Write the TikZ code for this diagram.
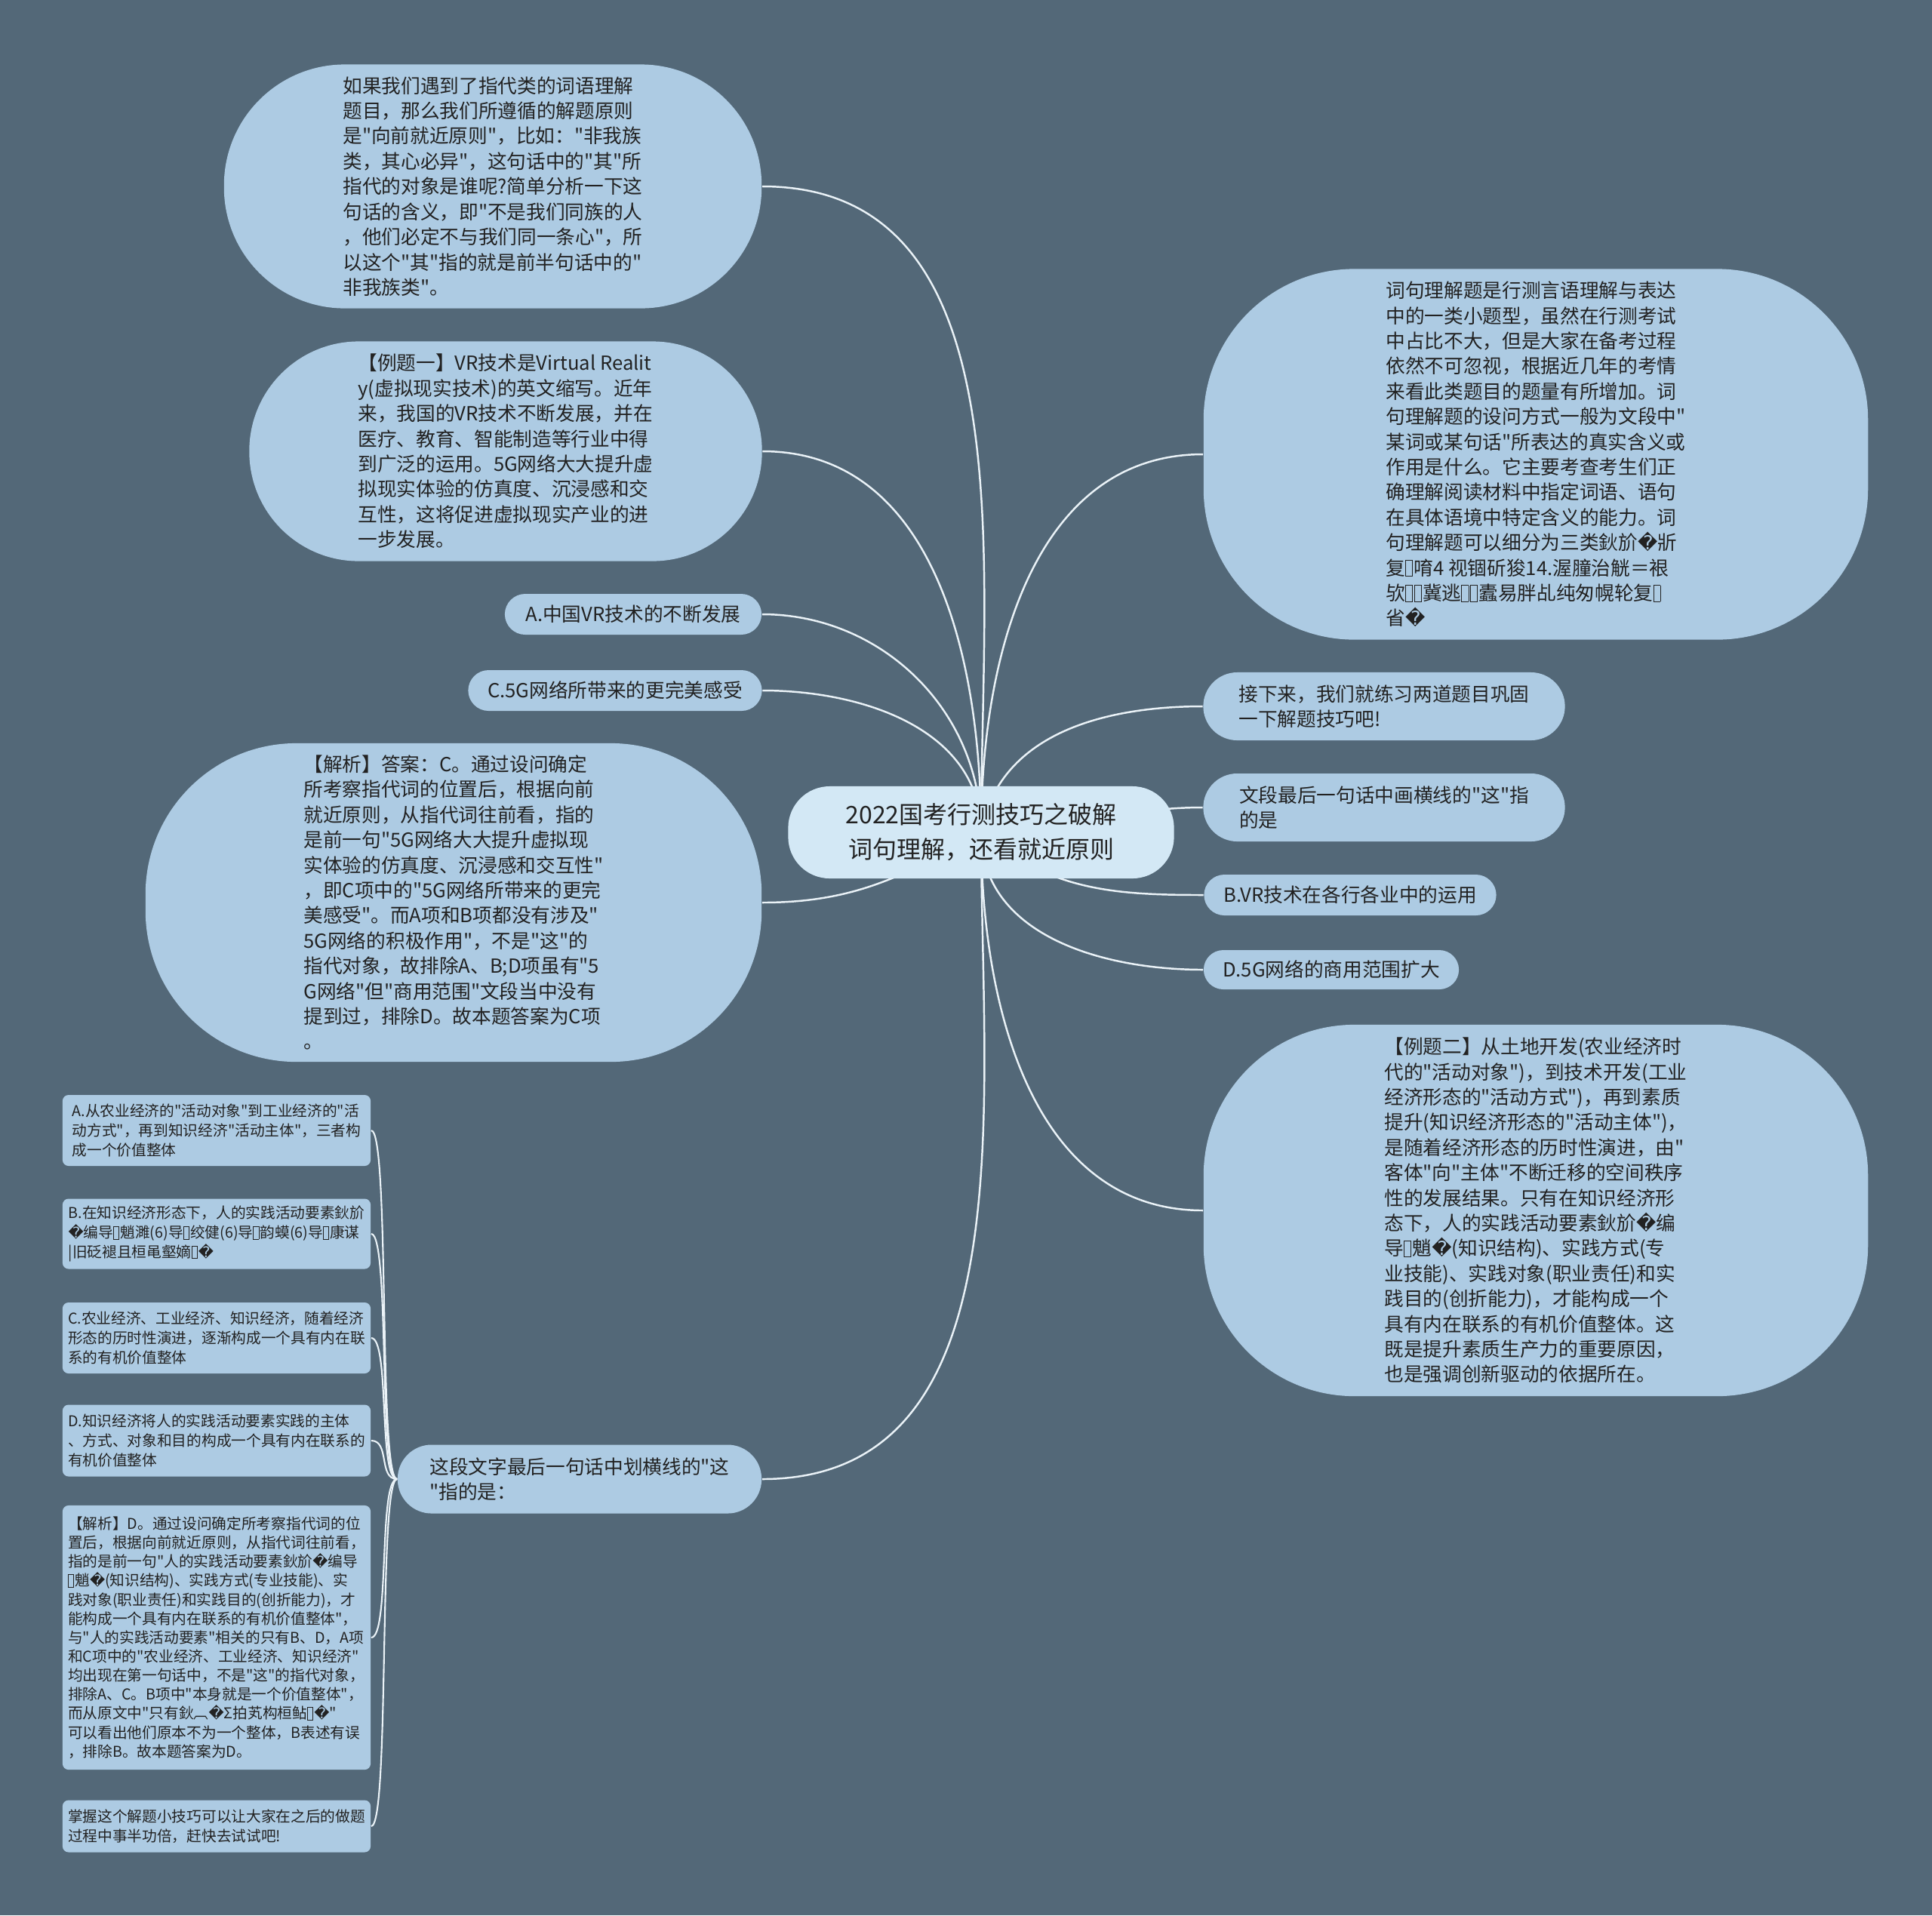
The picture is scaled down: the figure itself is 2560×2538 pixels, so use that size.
\documentclass[tikz,border=0pt]{standalone}
\usepackage{fontspec}
\newfontfamily\cjk{Noto Sans CJK SC}
\newfontfamily\dvs{DejaVu Sans}
\newcommand\rp{{\dvs\symbol{"FFFD}}}
\newcommand\tofu{{\setlength\fboxsep{0pt}\setlength\fboxrule{0.25pt}\raisebox{-0.05em}{\fbox{\rule{0pt}{0.8em}\hspace{0.32em}}}\hspace{0.06em}}}
\definecolor{bgslate}{HTML}{536878}
\definecolor{nodeblue}{HTML}{ADCBE3}
\definecolor{rootblue}{HTML}{D3E8F5}
\definecolor{linkwhite}{HTML}{EAF2F7}
\definecolor{inkdark}{HTML}{222222}
\usetikzlibrary{topaths}
\pgfdeclarelayer{bg}
\pgfdeclarelayer{edges}
\pgfsetlayers{bg,edges,main}

\begin{document}
\begin{tikzpicture}[x=0.01cm,y=-0.01cm,
  box/.style={fill=nodeblue,text=inkdark,inner sep=0pt,align=left,
    font=\cjk\fontsize{7.3}{9.5}\selectfont},
  pill/.style={box,rounded corners=#1},
  note/.style={box,rounded corners=0.08cm,minimum width=4.08cm,
    font=\cjk\fontsize{5.6}{7.3}\selectfont},
  link/.style={draw=linkwhite,line width=0.7pt},
  twig/.style={link,line width=0.6pt,out=180,in=0,out distance=0.25cm,in distance=0.25cm}]

\begin{pgfonlayer}{bg}
  \fill[bgslate] (0,0) rectangle (2560,2538);
\end{pgfonlayer}

% centre
\node[pill=0.55cm,fill=rootblue,align=center,minimum width=5.11cm,minimum height=1.22cm,
  font=\cjk\fontsize{9.1}{13}\selectfont] (root) at (1300,1103)
  {2022国考行测技巧之破解\\词句理解，还看就近原则};

% left branch
\node[pill=1.6cm,minimum width=7.12cm,minimum height=3.23cm] (zhidai) at (653,247)
  {如果我们遇到了指代类的词语理解\\题目，那么我们所遵循的解题原则\\是"向前就近原则"，比如："非我族\\类，其心必异"，这句话中的"其"所\\指代的对象是谁呢?简单分析一下这\\句话的含义，即"不是我们同族的人\\，他们必定不与我们同一条心"，所\\以这个"其"指的就是前半句话中的"\\非我族类"。};
\node[pill=1.45cm,minimum width=6.79cm,minimum height=2.91cm] (liti1) at (670,598)
  {【例题一】VR技术是Virtual Realit\\y(虚拟现实技术)的英文缩写。近年\\来，我国的VR技术不断发展，并在\\医疗、教育、智能制造等行业中得\\到广泛的运用。5G网络大大提升虚\\拟现实体验的仿真度、沉浸感和交\\互性，这将促进虚拟现实产业的进\\一步发展。};
\node[pill=0.27cm,minimum width=3.40cm,minimum height=0.54cm] (optA) at (839,814)
  {A.中国VR技术的不断发展};
\node[pill=0.27cm,minimum width=3.89cm,minimum height=0.54cm] (optC) at (815,915)
  {C.5G网络所带来的更完美感受};
\node[pill=2cm,minimum width=8.16cm,minimum height=4.22cm] (jiexi1) at (601,1196)
  {【解析】答案：C。通过设问确定\\所考察指代词的位置后，根据向前\\就近原则，从指代词往前看，指的\\是前一句"5G网络大大提升虚拟现\\实体验的仿真度、沉浸感和交互性"\\，即C项中的"5G网络所带来的更完\\美感受"。而A项和B项都没有涉及"\\5G网络的积极作用"，不是"这"的\\指代对象，故排除A、B;D项虽有"5\\G网络"但"商用范围"文段当中没有\\提到过，排除D。故本题答案为C项\\。};
\node[pill=0.45cm,minimum width=4.82cm,minimum height=0.91cm] (ask2) at (768,1960)
  {这段文字最后一句话中划横线的"这\\"指的是：};

% right branch
\node[pill=2cm,minimum width=8.8cm,minimum height=4.91cm] (ciju) at (2035,602)
  {词句理解题是行测言语理解与表达\\中的一类小题型，虽然在行测考试\\中占比不大，但是大家在备考过程\\依然不可忽视，根据近几年的考情\\来看此类题目的题量有所增加。词\\句理解题的设问方式一般为文段中"\\某词或某句话"所表达的真实含义或\\作用是什么。它主要考查考生们正\\确理解阅读材料中指定词语、语句\\在具体语境中特定含义的能力。词\\句理解题可以细分为三类鈥斺\rp 斨\\复\tofu 唷4 视锢斫狻14.渥膧治觥＝裉\\欤\tofu\tofu 冀逃\tofu\tofu 蠹易胖乩纯匆幌轮复\tofu\\省\rp};
\node[pill=0.45cm,minimum width=4.79cm,minimum height=0.9cm] (next) at (1834,936)
  {接下来，我们就练习两道题目巩固\\一下解题技巧吧!};
\node[pill=0.45cm,minimum width=4.79cm,minimum height=0.9cm] (ask1) at (1834,1070)
  {文段最后一句话中画横线的"这"指\\的是};
\node[pill=0.27cm,minimum width=3.87cm,minimum height=0.54cm] (optB) at (1789,1186)
  {B.VR技术在各行各业中的运用};
\node[pill=0.26cm,minimum width=3.38cm,minimum height=0.52cm] (optD) at (1764,1285)
  {D.5G网络的商用范围扩大};
\node[pill=2cm,minimum width=8.8cm,minimum height=4.92cm] (liti2) at (2035,1604)
  {【例题二】从土地开发(农业经济时\\代的"活动对象")，到技术开发(工业\\经济形态的"活动方式")，再到素质\\提升(知识经济形态的"活动主体")，\\是随着经济形态的历时性演进，由"\\客体"向"主体"不断迁移的空间秩序\\性的发展结果。只有在知识经济形\\态下，人的实践活动要素鈥斺\rp 编\\导\tofu 魈\rp(知识结构)、实践方式(专\\业技能)、实践对象(职业责任)和实\\践目的(创折能力)，才能构成一个\\具有内在联系的有机价值整体。这\\既是提升素质生产力的重要原因，\\也是强调创新驱动的依据所在。};

% options under ask2
\node[note,minimum height=0.94cm] (sa) at (287,1498)
  {A.从农业经济的"活动对象"到工业经济的"活\\动方式"，再到知识经济"活动主体"，三者构\\成一个价值整体};
\node[note,minimum height=0.93cm] (sb) at (287,1635)
  {B.在知识经济形态下，人的实践活动要素鈥斺\\\rp 编导\tofu 魈濉(6)导\tofu 绞健(6)导\tofu 韵蟆(6)导\tofu 康谋\\|旧砭褪且桓黾壑嫡\tofu\rp};
\node[note,minimum height=0.94cm] (sc) at (287,1773)
  {C.农业经济、工业经济、知识经济，随着经济\\形态的历时性演进，逐渐构成一个具有内在联\\系的有机价值整体};
\node[note,minimum height=0.95cm] (sd) at (287,1909)
  {D.知识经济将人的实践活动要素实践的主体\\、方式、对象和目的构成一个具有内在联系的\\有机价值整体};
\node[note,minimum height=3.5cm,font=\cjk\fontsize{5.6}{7.15}\selectfont] (se) at (287,2170)
  {【解析】D。通过设问确定所考察指代词的位\\置后，根据向前就近原则，从指代词往前看，\\指的是前一句"人的实践活动要素鈥斺\rp 编导\\\tofu 魈\rp(知识结构)、实践方式(专业技能)、实\\践对象(职业责任)和实践目的(创折能力)，才\\能构成一个具有内在联系的有机价值整体"，\\与"人的实践活动要素"相关的只有B、D，A项\\和C项中的"农业经济、工业经济、知识经济"\\均出现在第一句话中，不是"这"的指代对象，\\排除A、C。B项中"本身就是一个价值整体"，\\而从原文中"只有鈥︹\rp Σ拍芄构桓鲇\tofu\rp"\\可以看出他们原本不为一个整体，B表述有误\\，排除B。故本题答案为D。};
\node[note,minimum height=0.69cm] (sf) at (287,2420)
  {掌握这个解题小技巧可以让大家在之后的做题\\过程中事半功倍，赶快去试试吧!};

\begin{pgfonlayer}{edges}
  \foreach \n in {zhidai,liti1,optA,optC}
    \draw[link] (root.center) to[out=90,in=0] (\n.east);
  \draw[link] (root.center) to[out=-150,in=0] (jiexi1.east);
  \draw[link] (root.center) to[out=-90,in=0] (ask2.east);
  \foreach \n/\o in {ciju/90,next/80,ask1/0,optB/-40,optD/-90,liti2/-90}
    \draw[link] (root.center) to[out=\o,in=180] (\n.west);
  \foreach \n in {sa,sb,sc,sd,se,sf}
    \draw[twig] (ask2.west) to (\n.east);
\end{pgfonlayer}
\end{tikzpicture}
\end{document}
